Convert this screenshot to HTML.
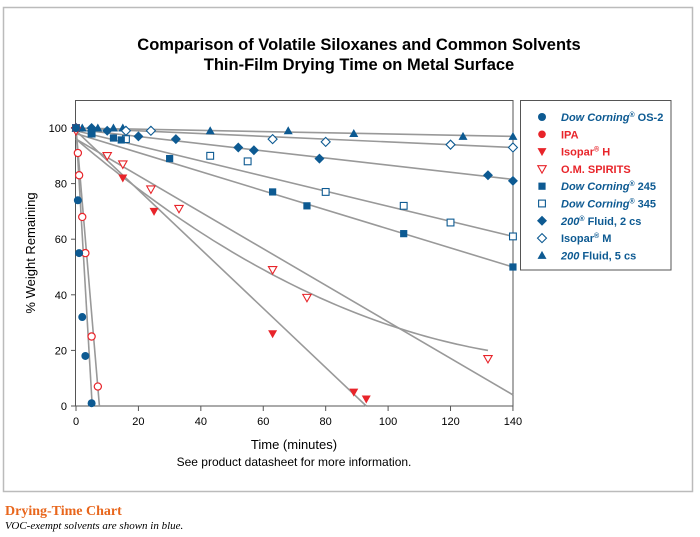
<!DOCTYPE html>
<html><head><meta charset="utf-8"><style>
body{margin:0;background:#fff;}
svg{display:block;font-family:"Liberation Sans",Arial,sans-serif;}
</style></head><body>
<svg id="s" width="700" height="537" viewBox="0 0 700 537" xmlns="http://www.w3.org/2000/svg">
<rect x="3.5" y="7.5" width="689" height="484" fill="#fff" stroke="#bbb" stroke-width="1.5"/>
<text x="359" y="50" font-size="16.5" font-weight="bold" text-anchor="middle" fill="#000">Comparison of Volatile Siloxanes and Common Solvents</text>
<text x="359" y="70" font-size="16.5" font-weight="bold" text-anchor="middle" fill="#000">Thin-Film Drying Time on Metal Surface</text>
<rect x="75.5" y="100.5" width="437.5" height="305.5" fill="none" stroke="#555" stroke-width="1"/>
<g id="lines" stroke="#999" stroke-width="1.6" fill="none"></g>
<g id="ticks" stroke="#555" stroke-width="1"></g>
<g id="tl" font-size="11" fill="#000"></g>
<g id="pts"></g>
<text transform="translate(35,253) rotate(-90)" font-size="13" text-anchor="middle">% Weight Remaining</text>
<text x="294" y="449" font-size="13" text-anchor="middle">Time (minutes)</text>
<text x="294" y="466" font-size="12" text-anchor="middle">See product datasheet for more information.</text>
<rect x="520.5" y="100.5" width="150.5" height="169.5" fill="#fff" stroke="#555" stroke-width="1"/>
<g id="leg" font-size="11" font-weight="bold"></g>
<text x="5" y="515" font-family="Liberation Serif,serif" font-size="14" font-weight="bold" fill="#e8661c">Drying-Time Chart</text>
<text x="5" y="529" font-family="Liberation Serif,serif" font-size="11" font-style="italic" fill="#000">VOC-exempt solvents are shown in blue.</text>
</svg>
<script>
var NS="http://www.w3.org/2000/svg";
function X(t){return 76+t*3.121}function Y(v){return 406-v*2.78}
function el(p,n,a,txt){var e=document.createElementNS(NS,n);for(var k in a)e.setAttribute(k,a[k]);if(txt!==undefined)e.textContent=txt;document.getElementById(p).appendChild(e);return e;}
var B="#0d5a92",R="#e8242a";
[[0,100,5.2,0],[0,100,7.5,0],[0,99,93,0],[0,96,140,4],[0,98,140,50],[0,99,140,61],[0,99.5,140,81.5],[0,100,140,93],[0,100,140,97]].forEach(function(l){el("lines","line",{x1:X(l[0]),y1:Y(l[1]),x2:X(l[2]),y2:Y(l[3])});});
var d="";for(var t=0;t<=132;t+=2){var v=96-0.9547*t+0.00287*t*t;d+=(t?"L":"M")+X(t).toFixed(1)+","+Y(v).toFixed(1);}
el("lines","path",{d:d});
for(var i=0;i<=140;i+=20){el("ticks","line",{x1:X(i),y1:406,x2:X(i),y2:411});el("tl","text",{x:X(i),y:425,"text-anchor":"middle"},i);}
for(var i=0;i<=100;i+=20){el("ticks","line",{x1:71,y1:Y(i),x2:76,y2:Y(i)});el("tl","text",{x:67,y:Y(i)+4,"text-anchor":"end"},i);}
function mk(g,type,x,y){
 if(type=="fc")el(g,"circle",{cx:x,cy:y,r:4,fill:B});
 if(type=="oc")el(g,"circle",{cx:x,cy:y,r:3.6,fill:"#fff",stroke:R,"stroke-width":1.2});
 if(type=="ft")el(g,"polygon",{points:(x-4.5)+","+(y-3.5)+" "+(x+4.5)+","+(y-3.5)+" "+x+","+(y+4.5),fill:R});
 if(type=="ot")el(g,"polygon",{points:(x-4.2)+","+(y-3.2)+" "+(x+4.2)+","+(y-3.2)+" "+x+","+(y+4.2),fill:"#fff",stroke:R,"stroke-width":1.1});
 if(type=="fs")el(g,"rect",{x:x-3.6,y:y-3.6,width:7.2,height:7.2,fill:B});
 if(type=="os")el(g,"rect",{x:x-3.4,y:y-3.4,width:6.8,height:6.8,fill:"#fff",stroke:B,"stroke-width":1.1});
 if(type=="fd")el(g,"polygon",{points:x+","+(y-5)+" "+(x+5)+","+y+" "+x+","+(y+5)+" "+(x-5)+","+y,fill:B});
 if(type=="od")el(g,"polygon",{points:x+","+(y-4.5)+" "+(x+4.5)+","+y+" "+x+","+(y+4.5)+" "+(x-4.5)+","+y,fill:"#fff",stroke:B,"stroke-width":1.1});
 if(type=="fu")el(g,"polygon",{points:(x-4.5)+","+(y+3.5)+" "+(x+4.5)+","+(y+3.5)+" "+x+","+(y-4.5),fill:B});
}
var S=[
["fu",[[0,100],[2,100],[5,100],[7,100],[12,100],[15,100],[43,99],[68,99],[89,98],[124,97],[140,97]]],
["od",[[0,100],[16,99],[24,99],[63,96],[80,95],[120,94],[140,93]]],
["fd",[[0,100],[5,100],[10,99],[20,97],[32,96],[52,93],[57,92],[78,89],[132,83],[140,81]]],
["os",[[0,100],[5,98],[16,96],[43,90],[55,88],[80,77],[105,72],[120,66],[140,61]]],
["fs",[[0,100],[5,98],[12,96.4],[14.5,95.7],[30,89],[63,77],[74,72],[105,62],[140,50]]],
["ot",[[0,99],[10,90],[15,87],[24,78],[33,71],[63,49],[74,39],[132,17]]],
["ft",[[15,82],[25,70],[63,26],[89,5],[93,2.5]]],
["oc",[[0,100],[0.6,91],[1,83],[2,68],[3,55],[5,25],[7,7]]],
["fc",[[0,100],[0.6,74],[1,55],[2,32],[3,18],[5,1]]]];
S.forEach(function(s){s[1].forEach(function(p){mk("pts",s[0],X(p[0]),Y(p[1]));});});
var L=[["fc",B,"<tspan font-style='italic'>Dow Corning</tspan><tspan font-size='7' dy='-4'>®</tspan><tspan dy='4'> OS-2</tspan>"],
["oc2",R,"IPA"],["ft",R,"Isopar<tspan font-size='7' dy='-4'>®</tspan><tspan dy='4'> H</tspan>"],["ot",R,"O.M. SPIRITS"],
["fs",B,"<tspan font-style='italic'>Dow Corning</tspan><tspan font-size='7' dy='-4'>®</tspan><tspan dy='4'> 245</tspan>"],
["os",B,"<tspan font-style='italic'>Dow Corning</tspan><tspan font-size='7' dy='-4'>®</tspan><tspan dy='4'> 345</tspan>"],
["fd",B,"<tspan font-style='italic'>200</tspan><tspan font-size='7' dy='-4'>®</tspan><tspan dy='4'> Fluid, 2 cs</tspan>"],
["od",B,"Isopar<tspan font-size='7' dy='-4'>®</tspan><tspan dy='4'> M</tspan>"],
["fu",B,"<tspan font-style='italic'>200</tspan> Fluid, 5 cs"]];
L.forEach(function(l,i){var y=117+i*17.3;
 if(l[0]=="oc2")el("leg","circle",{cx:542,cy:y,r:3.8,fill:R});else mk("leg",l[0],542,y);
 var t=el("leg","text",{x:561,y:y+4,fill:l[1]});t.innerHTML=l[2];});
</script>
</body></html>
